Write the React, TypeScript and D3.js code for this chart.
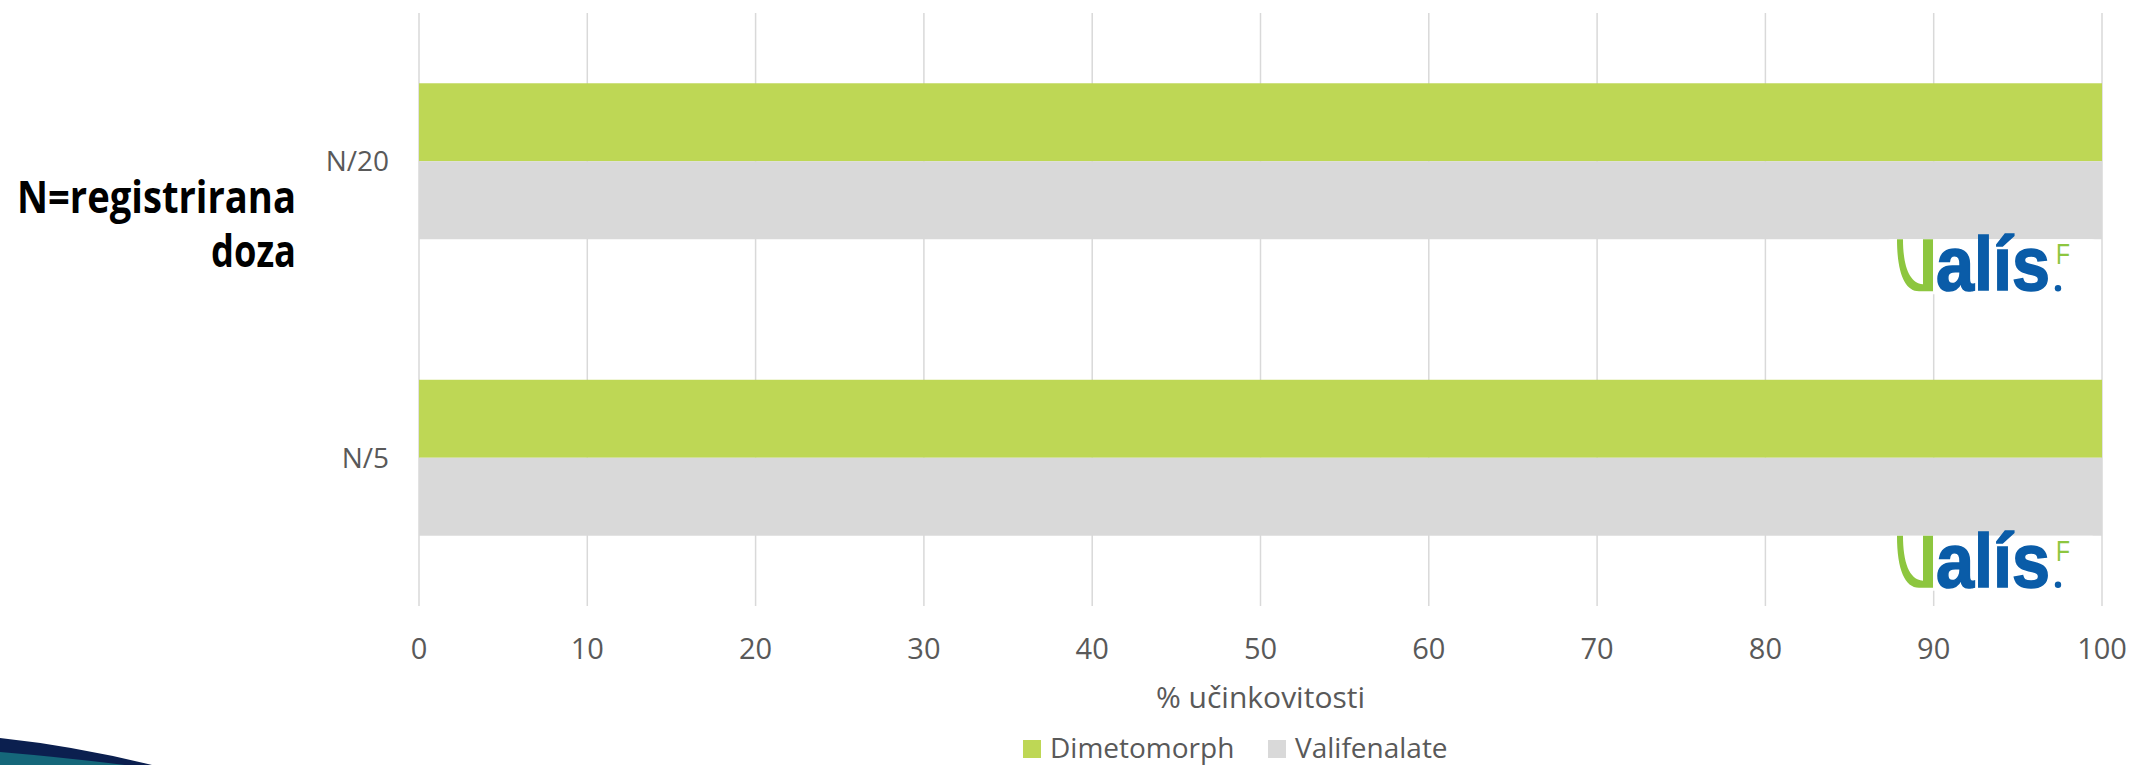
import React from "react";
import * as d3 from "d3";

const categories = ["N/20", "N/5"];
const seriesNames = ["Dimetomorph", "Valifenalate"];
const dimetomorph = [100, 100];
const valifenalate = [100, 100];
const xTicks = [0, 10, 20, 30, 40, 50, 60, 70, 80, 90, 100];
const axisTitle = "% učinkovitosti";
const sideTitle = ["N=registrirana", "doza"];

const W = 2131;
const H = 765;
const COLORS = ["#BED755", "#D9D9D9"];
const TEXT = "#595959";
const FONT = "'Open Sans', sans-serif";

function Logo({ x, y }: { x: number; y: number }) {
  return (
    <g transform={`translate(${x},${y})`}>
      <rect x={-12} y={0} width={213} height={55} fill="#ffffff" opacity={0.95} rx={6} />
      <path
        d="M0,0 L6,0 C6,26 12,44 26,45 L26,0 L36,0 L36,52 L22,52 C8,52 0,34 0,0 Z"
        fill="#8DC63F"
      />
      <g transform="translate(39,51) scale(1,1.12)">
        <text
          x={0}
          y={0}
          fontFamily="'Liberation Sans', Arial, sans-serif"
          fontWeight="bold"
          fontSize={68}
          textLength={114}
          lengthAdjust="spacingAndGlyphs"
          fill="#0A5CA8"
          stroke="#0A5CA8"
          strokeWidth={1.5}
        >
          alís
        </text>
      </g>
      <text
        x={159}
        y={25}
        fontFamily="'Liberation Sans', Arial, sans-serif"
        fontSize={30}
        textLength={14}
        lengthAdjust="spacingAndGlyphs"
        fill="#8DC63F"
      >
        F
      </text>
      <circle cx={161} cy={49} r={3.2} fill="#0A5CA8" />
    </g>
  );
}

export default function App() {
  const left = 419;
  const right = 2102;
  const top = 13;
  const bottom = 606;

  const x = d3.scaleLinear().domain([0, 100]).range([left, right]);
  const y = d3
    .scaleBand<string>()
    .domain(categories)
    .range([top, bottom])
    .paddingInner(0.474)
    .paddingOuter(0.237);
  const ySub = d3
    .scaleBand<string>()
    .domain(seriesNames)
    .range([0, y.bandwidth()]);

  const values = [dimetomorph, valifenalate];

  const legendItems = [
    { name: seriesNames[0], x: 1023, color: COLORS[0] },
    { name: seriesNames[1], x: 1268, color: COLORS[1] },
  ];

  return (
    <svg
      width={W}
      height={H}
      style={{ position: "absolute", left: 0, top: 0, background: "#fff" }}
    >
      <rect x={0} y={0} width={W} height={H} fill="#ffffff" />

      {xTicks.map((t) => (
        <line
          key={t}
          x1={x(t)}
          x2={x(t)}
          y1={top}
          y2={bottom}
          stroke="#D9D9D9"
          strokeWidth={1.5}
        />
      ))}

      {categories.map((c, i) =>
        seriesNames.map((s, j) => (
          <rect
            key={c + s}
            x={x(0)}
            y={(y(c) as number) + (ySub(s) as number)}
            width={x(values[j][i]) - x(0)}
            height={ySub.bandwidth()}
            fill={COLORS[j]}
          />
        ))
      )}

      {categories.map((c) => (
        <Logo
          key={"logo" + c}
          x={x(100) - 205}
          y={(y(c) as number) + y.bandwidth()}
        />
      ))}

      {categories.map((c) => (
        <text
          key={"lbl" + c}
          x={389}
          y={(y(c) as number) + y.bandwidth() / 2 + 10}
          textAnchor="end"
          fontFamily={FONT}
          fontSize={28}
          fill={TEXT}
        >
          {c}
        </text>
      ))}

      {xTicks.map((t) => (
        <text
          key={"t" + t}
          x={x(t)}
          y={659}
          textAnchor="middle"
          fontFamily={FONT}
          fontSize={29}
          fill={TEXT}
        >
          {t}
        </text>
      ))}

      <text
        x={(left + right) / 2}
        y={708}
        textAnchor="middle"
        fontFamily={FONT}
        fontSize={30}
        fill={TEXT}
      >
        {axisTitle}
      </text>

      {legendItems.map((it) => (
        <g key={it.name}>
          <rect x={it.x} y={740} width={18} height={18} fill={it.color} />
          <text
            x={it.x + 27}
            y={758}
            fontFamily={FONT}
            fontSize={28}
            fill={TEXT}
          >
            {it.name}
          </text>
        </g>
      ))}

      <text
        x={296}
        y={213}
        textAnchor="end"
        fontFamily={FONT}
        fontWeight="bold"
        fontSize={44}
        textLength={279}
        lengthAdjust="spacingAndGlyphs"
        fill="#000000"
      >
        {sideTitle[0]}
      </text>
      <text
        x={296}
        y={267}
        textAnchor="end"
        fontFamily={FONT}
        fontWeight="bold"
        fontSize={44}
        textLength={85}
        lengthAdjust="spacingAndGlyphs"
        fill="#000000"
      >
        {sideTitle[1]}
      </text>

      <path d="M0,738 Q75,746 152,765 L0,765 Z" fill="#0B1F4F" />
      <path d="M0,752 Q60,757 125,765 L0,765 Z" fill="#15677A" />
    </svg>
  );
}
